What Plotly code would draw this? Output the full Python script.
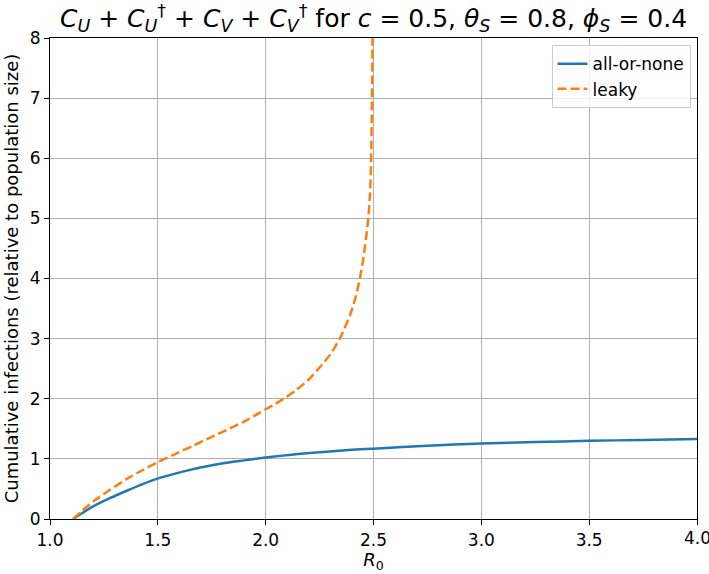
import plotly.graph_objects as go

# all-or-none (blue, solid)
r0_aon = [1.107, 1.15, 1.2, 1.28, 1.356, 1.43, 1.502, 1.58, 1.664, 1.74, 1.819, 1.9, 1.973, 2.066, 2.15, 2.25, 2.4, 2.5, 2.75, 3.0, 3.25, 3.5, 3.75, 4.0]
c_aon = [0.0, 0.10, 0.21, 0.35, 0.47, 0.58, 0.675, 0.755, 0.83, 0.885, 0.935, 0.975, 1.01, 1.05, 1.08, 1.11, 1.15, 1.17, 1.22, 1.255, 1.28, 1.30, 1.315, 1.33]

# leaky (orange, dashed)
r0_leaky = [1.108, 1.15, 1.2, 1.28, 1.356, 1.43, 1.502, 1.58, 1.664, 1.74, 1.819, 1.9, 1.973, 2.066, 2.14, 2.2, 2.25, 2.3, 2.344, 2.39, 2.415, 2.437, 2.45, 2.46, 2.468, 2.476, 2.484, 2.489, 2.492, 2.494, 2.4955]
c_leaky = [0.0, 0.14, 0.29, 0.49, 0.665, 0.815, 0.95, 1.08, 1.22, 1.35, 1.48, 1.62, 1.77, 1.96, 2.14, 2.32, 2.52, 2.74, 3.00, 3.38, 3.66, 4.00, 4.27, 4.52, 4.75, 5.00, 5.40, 6.00, 6.70, 7.30, 8.00]

x_ticks = [1.0, 1.5, 2.0, 2.5, 3.0, 3.5, 4.0]
x_ticktext = ["1.0", "1.5", "2.0", "2.5", "3.0", "3.5", ""]
y_ticks = [0, 1, 2, 3, 4, 5, 6, 7, 8]

font = "DejaVu Sans"

fig = go.Figure()
fig.add_trace(go.Scatter(x=r0_aon, y=c_aon, mode="lines", name="all-or-none",
                         line=dict(color="#1f77b4", width=2.5, shape="spline", smoothing=0.8)))
fig.add_trace(go.Scatter(x=r0_leaky, y=c_leaky, mode="lines", name="leaky",
                         line=dict(color="#ff7f0e", width=2.5, dash="9px,4px", shape="spline", smoothing=0.6)))

axis_common = dict(showline=True, linecolor="black", linewidth=1.2, mirror=True,
                   ticks="outside", ticklen=5, tickcolor="black",
                   showgrid=True, gridcolor="#b0b0b0", gridwidth=1.2,
                   zeroline=False, automargin=False,
                   tickfont=dict(family=font, size=17, color="black"))

fig.update_layout(
    width=709, height=574,
    margin=dict(l=50, r=12, t=38, b=55),
    paper_bgcolor="white", plot_bgcolor="white",
    title=dict(text="<i>C</i><sub><i>U</i></sub> + <i>C</i><sub><i>U</i></sub><sup>†</sup> + <i>C</i><sub><i>V</i></sub> + <i>C</i><sub><i>V</i></sub><sup>†</sup> for <i>c</i> = 0.5, <i>θ</i><sub><i>S</i></sub> = 0.8, <i>ϕ</i><sub><i>S</i></sub> = 0.4",
               x=0.5, xref="paper", xanchor="center", y=0.968, yanchor="middle",
               font=dict(family=font, size=25, color="black")),
    xaxis=dict(range=[1.0, 4.0], tickvals=x_ticks, ticktext=x_ticktext,
               title=dict(text="<i>R</i><sub>0</sub>", font=dict(family=font, size=18, color="black"), standoff=2),
               **axis_common),
    yaxis=dict(range=[0, 8], tickvals=y_ticks,
               title=dict(text="Cumulative infections (relative to population size)", font=dict(family=font, size=18, color="black"), standoff=6),
               **axis_common),
    legend=dict(x=0.99, y=0.985, xanchor="right", yanchor="top",
                bgcolor="rgba(255,255,255,0.8)", bordercolor="#cccccc", borderwidth=1,
                font=dict(family=font, size=17, color="black")),
    showlegend=True,
)

# last x tick label (sits at the figure's right edge, as in the reference)
fig.add_annotation(x=x_ticks[-1], xref="x", y=0, yref="paper", yanchor="middle", yshift=-19,
                   text="4.0", showarrow=False, font=dict(family=font, size=17, color="black"))

fig.write_html("out.html")
